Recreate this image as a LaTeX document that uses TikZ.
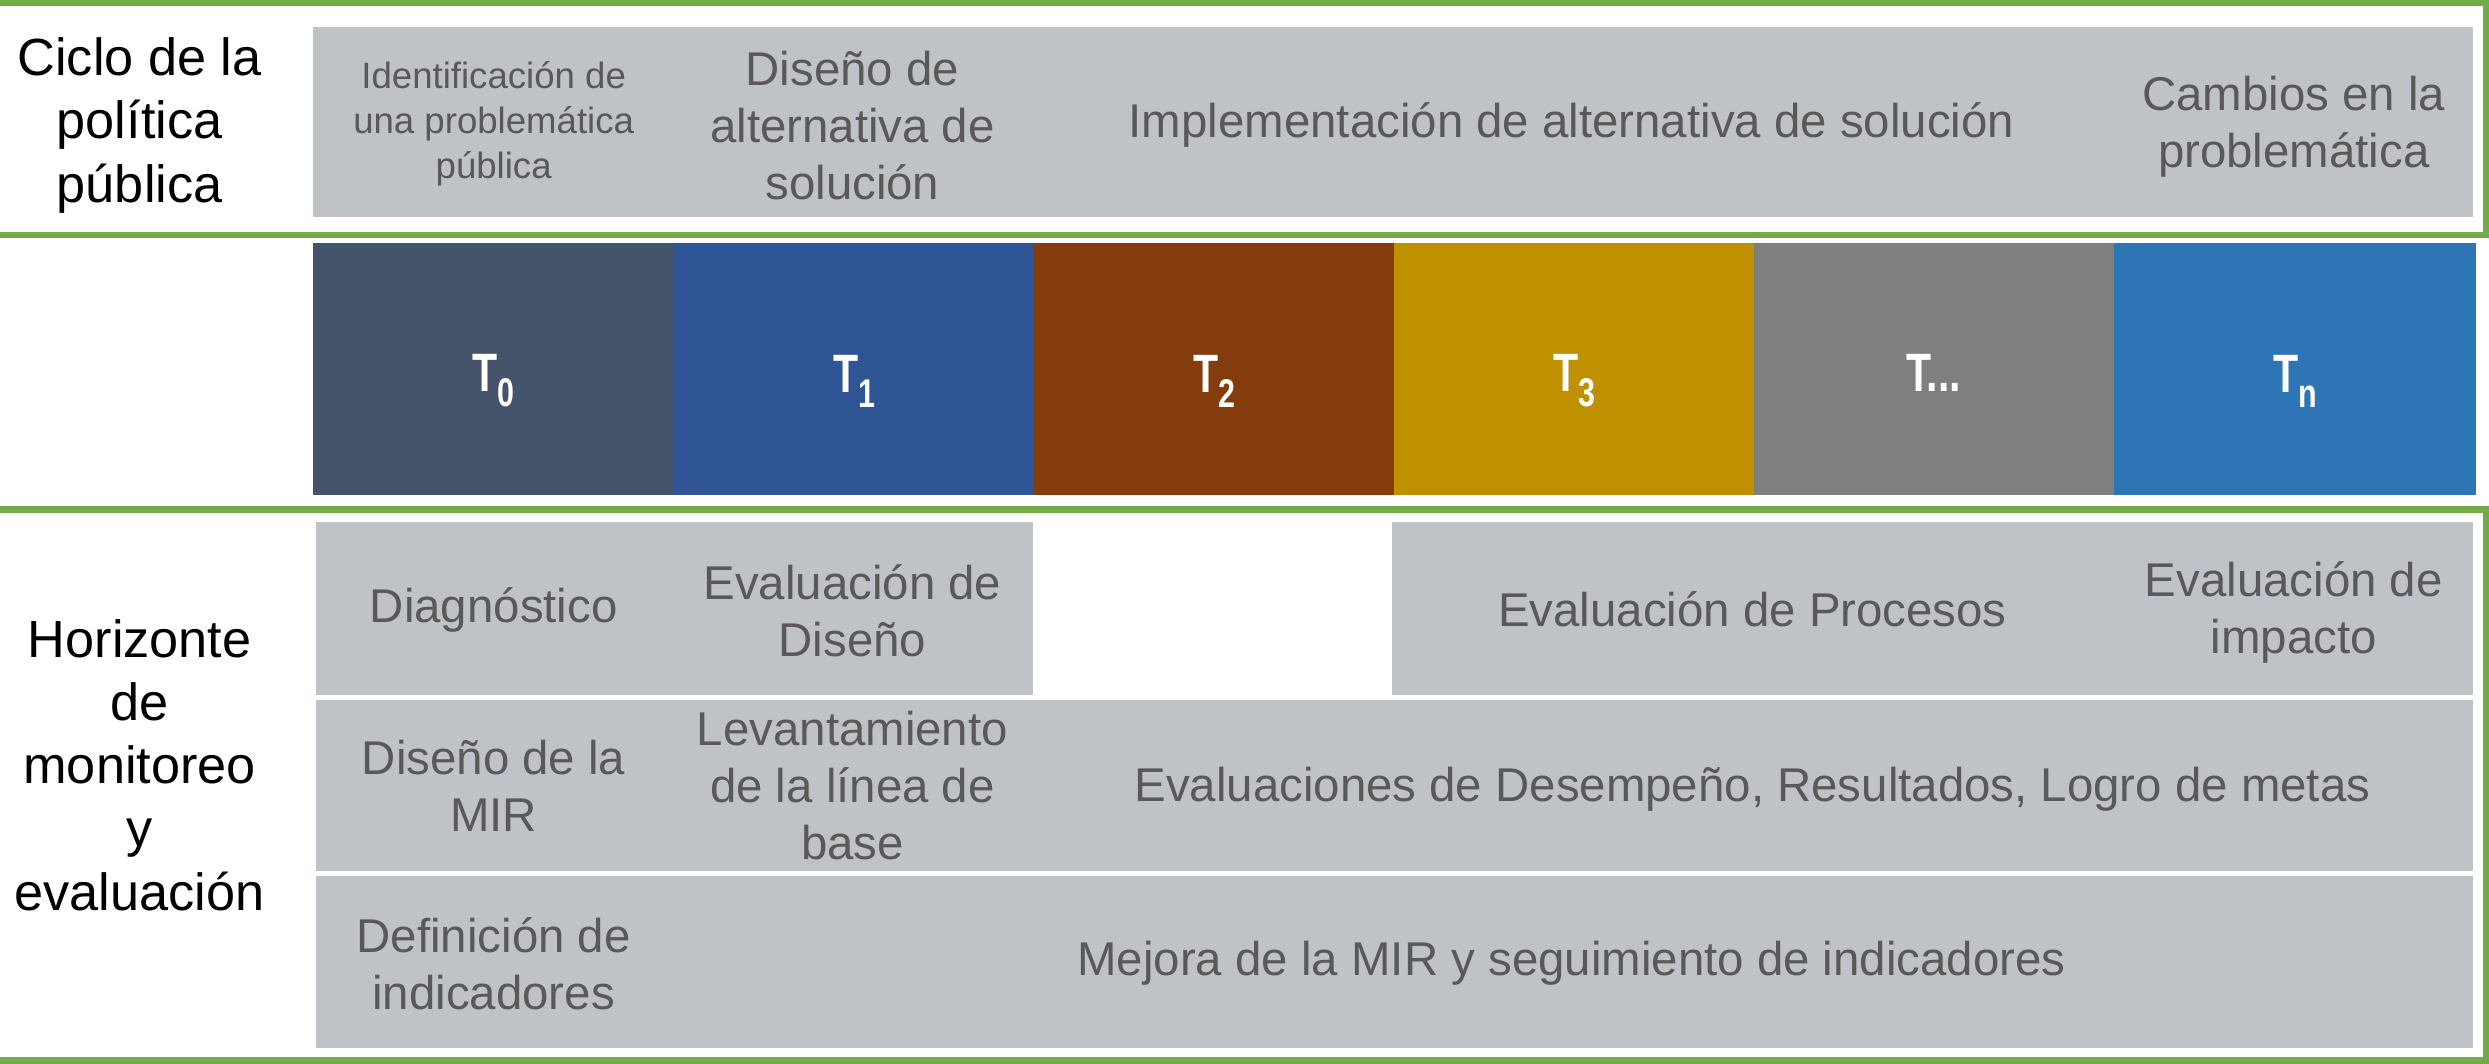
\documentclass[tikz,border=0pt]{standalone}
\usepackage{fontspec}
\setmainfont{Liberation Sans}
\newfontfamily\tfont[FakeStretch=0.76]{Liberation Sans}
\usepackage{xcolor}
\usetikzlibrary{calc}

\definecolor{framegreen}{HTML}{70AD47}
\definecolor{boxgrey}{HTML}{BFC3C7}
\definecolor{textgrey}{HTML}{595959}
\definecolor{tcero}{HTML}{44546A}
\definecolor{tuno}{HTML}{2F5597}
\definecolor{tdos}{HTML}{843C0C}
\definecolor{ttres}{HTML}{BF9000}
\definecolor{tpuntos}{HTML}{7F7F7F}
\definecolor{tene}{HTML}{2E75B6}

\newcommand{\tsub}[1]{\raisebox{-0.28em}{\fontsize{11.5}{12}\selectfont #1}}

\begin{document}
\begin{tikzpicture}[x=0.016cm,y=-0.016cm,
    every node/.style={inner sep=0pt,align=center},
    frame/.style={draw=framegreen,line width=1.8pt},
    greybox/.style={fill=boxgrey},
    greytext/.style={text=textgrey,font=\fontsize{13.6}{16.3}\selectfont},
    smalltext/.style={text=textgrey,font=\fontsize{10.5}{13}\selectfont},
    sidetext/.style={text=black,font=\fontsize{15}{18.1}\selectfont},
    tlabel/.style={text=white,font=\tfont\bfseries\fontsize{15.5}{17}\selectfont}]
    \useasboundingbox (0,0) rectangle (1568,670);
    % ciclo de la politica publica
    \draw [frame] (-5,2) -- (1566,2) -- (1566,148) -- (-5,148);
    \fill [greybox] (197,17) rectangle (1558,137);
    \node [sidetext] (ciclo) at (88,79) {Ciclo de la\\política\\pública};
    \node [smalltext] (ident) at (311,78) {Identificación de\\una problemática\\pública};
    \node [greytext] (disenio) at (537,79) {Diseño de\\alternativa de\\solución};
    \node [greytext] (implem) at (990,79) {Implementación de alternativa de solución};
    \node [greytext] (cambios) at (1445,80) {Cambios en la\\problemática};
    % linea de tiempo
    \fill [tcero] (197,153) rectangle (424,312);
    \fill [tuno] (424,153) rectangle (651,312);
    \fill [tdos] (651,153) rectangle (878,312);
    \fill [ttres] (878,153) rectangle (1105,312);
    \fill [tpuntos] (1105,153) rectangle (1332,312);
    \fill [tene] (1332,153) rectangle (1560,312);
    \node [tlabel] (t0) at (311,240) {T\tsub{0}};
    \node [tlabel] (t1) at (538,240) {T\tsub{1}};
    \node [tlabel] (t2) at (765,240) {T\tsub{2}};
    \node [tlabel] (t3) at (992,240) {T\tsub{3}};
    \node [tlabel] (tp) at (1218,235) {T...};
    \node [tlabel] (tn) at (1446,240) {T\tsub{n}};
    % horizonte de monitoreo y evaluacion
    \draw [frame] (-5,321) -- (1566,321) -- (1566,668) -- (-5,668);
    \fill [greybox] (199,329) rectangle (651,438);
    \fill [greybox] (877,329) rectangle (1558,438);
    \fill [greybox] (199,441) rectangle (1558,549);
    \fill [greybox] (199,552) rectangle (1558,660);
    \node [sidetext] (horiz) at (88,482) {Horizonte\\de\\monitoreo\\y\\evaluación};
    \node [greytext] (diag) at (311,384) {Diagnóstico};
    \node [greytext] (evaldis) at (537,385) {Evaluación de\\Diseño};
    \node [greytext] (evalproc) at (1104,384) {Evaluación de Procesos};
    \node [greytext] (evalimp) at (1445,386) {Evaluación de\\impacto};
    \node [greytext] (mir) at (311,495) {Diseño de la\\MIR};
    \node [greytext] (linea) at (537,495) {Levantamiento\\de la línea de\\base};
    \node [greytext] (desemp) at (1104,497) {Evaluaciones de Desempeño, Resultados, Logro de metas};
    \node [greytext] (indic) at (311,607) {Definición de\\indicadores};
    \node [greytext] (mejora) at (990,607) {Mejora de la MIR y seguimiento de indicadores};
\end{tikzpicture}
\end{document}
